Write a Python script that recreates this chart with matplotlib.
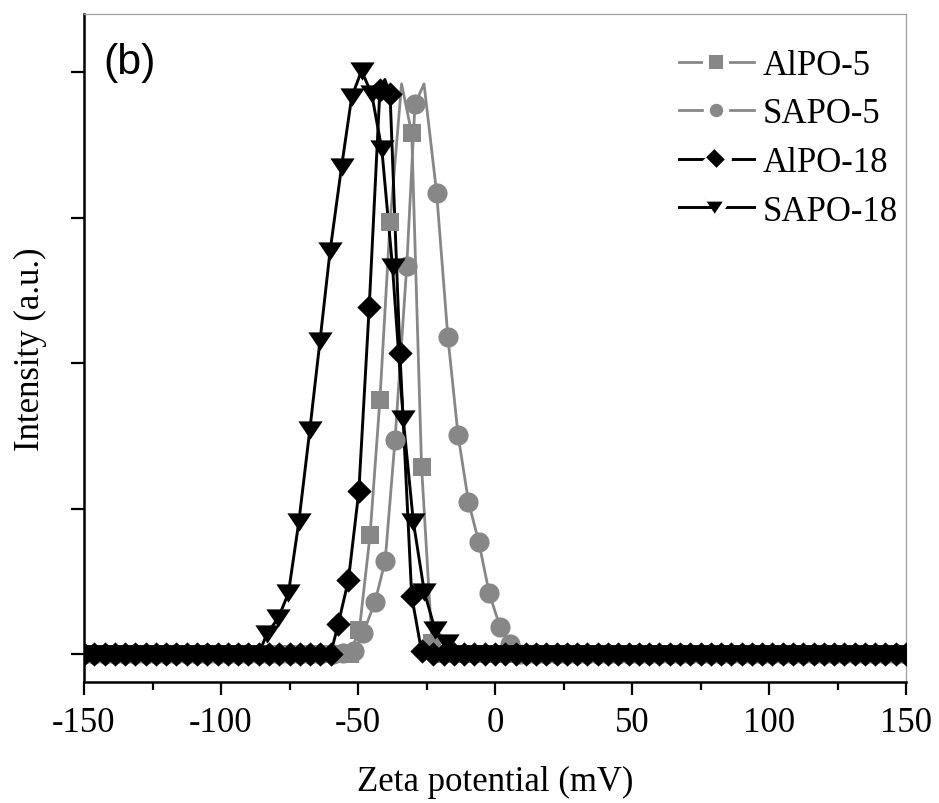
"""Zeta potential distributions of AlPO/SAPO samples, panel (b)."""

import matplotlib

matplotlib.use("Agg")

import matplotlib.pyplot as plt
import numpy as np
from matplotlib.lines import Line2D

# shared measurement grid for the flat baseline (mV)
BASE_X = [
    -150.0, -146.25, -142.5, -138.75, -135.0, -131.25, -127.5, -123.75, -120.0, -116.25,
    -112.5, -108.75, -105.0, -101.25, -97.5, -93.75, -90.0, -86.25, -82.5, -78.75,
    -75.0, -71.25, -67.5, -63.75, -60.0, -56.25, -52.5, -48.75, -45.0, -41.25,
    -37.5, -33.75, -30.0, -26.25, -22.5, -18.75, -15.0, -11.25, -7.5, -3.75,
    0.0, 3.75, 7.5, 11.25, 15.0, 18.75, 22.5, 26.25, 30.0, 33.75,
    37.5, 41.25, 45.0, 48.75, 52.5, 56.25, 60.0, 63.75, 67.5, 71.25,
    75.0, 78.75, 82.5, 86.25, 90.0, 93.75, 97.5, 101.25, 105.0, 108.75,
    112.5, 116.25, 120.0, 123.75, 127.5, 131.25, 135.0, 138.75, 142.5, 146.25, 150.0,
]

# peak regions (marker points)
ALPO5_X = [-53.0, -49.5, -45.6, -42.0, -38.3, -30.4, -26.8, -23.0, -19.3]
ALPO5_Y = [0.0, 0.17, 0.82, 1.75, 2.97, 3.58, 1.29, 0.08, 0.0]
ALPO5_APEX_X = [-34.1]
ALPO5_APEX_Y = [3.92]

SAPO5_X = [-59.0, -55.5, -51.5, -48.0, -43.8, -40.1, -36.5, -32.2, -29.2,
           -21.3, -17.2, -13.5, -9.7, -5.9, -2.1, 1.8, 5.5, 9.3]
SAPO5_Y = [0.0, 0.01, 0.02, 0.15, 0.36, 0.64, 1.47, 2.67, 3.78,
           3.17, 2.18, 1.51, 1.05, 0.77, 0.42, 0.19, 0.07, 0.0]
SAPO5_APEX_X = [-25.9]
SAPO5_APEX_Y = [3.92]

ALPO18_X = [-60.0, -57.2, -53.5, -49.7, -45.9, -42.0, -38.3, -34.7, -30.4, -26.8]
ALPO18_Y = [0.0, 0.21, 0.51, 1.12, 2.39, 3.88, 3.85, 2.07, 0.40, 0.02]
ALPO18_APEX_X = [-40.2]
ALPO18_APEX_Y = [3.95]

SAPO18_X = [-86.25, -83.3, -79.1, -75.4, -71.6, -67.6, -63.9, -60.2, -56.0, -52.3,
            -48.7, -45.0, -41.3, -37.4, -33.5, -29.8, -25.8, -21.9, -17.6, -13.9]
SAPO18_Y = [0.0, 0.14, 0.25, 0.42, 0.91, 1.54, 2.15, 2.77, 3.35, 3.83,
            4.01, 3.85, 3.47, 2.66, 1.62, 0.91, 0.43, 0.17, 0.08, 0.0]
SAPO18_APEX_X = []
SAPO18_APEX_Y = []

LABELS = ["AlPO-5", "SAPO-5", "AlPO-18", "SAPO-18"]
GREY = "#878787"

TRI = [(-1, 0.75), (1, 0.75), (0, -0.75)]
DIAMOND = [(0, 1), (1, 0), (0, -1), (-1, 0)]

plt.rcParams["font.family"] = ["Liberation Serif", "DejaVu Serif"]
plt.rcParams["axes.unicode_minus"] = False


def full_series(px, py):
    lo, hi = min(px) - 1.0, max(px) + 1.0
    xs = [x for x in BASE_X if x < lo or x > hi] + list(px)
    ys = [0.0 for x in BASE_X if x < lo or x > hi] + list(py)
    order = np.argsort(xs)
    return np.asarray(xs)[order], np.asarray(ys)[order]


def line_series(mx, my, ax_, ay_):
    xs = list(mx) + list(ax_)
    ys = list(my) + list(ay_)
    order = np.argsort(xs)
    return np.asarray(xs)[order], np.asarray(ys)[order]


fig = plt.figure(figsize=(9.39, 8.04), dpi=100)
ax = fig.add_axes([84 / 939, 1 - 683 / 804, 822 / 939, 668 / 804])

series = [
    (ALPO5_X, ALPO5_Y, ALPO5_APEX_X, ALPO5_APEX_Y, GREY, "s", 13.0, 2.0),
    (SAPO5_X, SAPO5_Y, SAPO5_APEX_X, SAPO5_APEX_Y, GREY, "o", 14.5, 2.0),
    (SAPO18_X, SAPO18_Y, SAPO18_APEX_X, SAPO18_APEX_Y, "black", TRI, 17.5, 2.1),
    (ALPO18_X, ALPO18_Y, ALPO18_APEX_X, ALPO18_APEX_Y, "black", DIAMOND, 17.5, 2.1),
]
for px, py, apx, apy, color, marker, ms, lw in series:
    mx, my = full_series(px, py)
    lx, ly = line_series(mx, my, apx, apy)
    ax.plot(lx, ly, color=color, linewidth=lw, zorder=2)
    ax.plot(mx, my, linestyle="none", marker=marker, markersize=ms,
            color=color, markeredgewidth=0, zorder=3)

ax.set_xlim(-150, 150)
ax.set_ylim(-0.19, 4.40)
ax.set_xticks([-150, -100, -50, 0, 50, 100, 150])
ax.set_xticks([-125, -75, -25, 25, 75, 125], minor=True)
ax.set_yticks([0, 1, 2, 3, 4])
ax.set_yticklabels([])
ax.tick_params(axis="both", which="major", direction="out", length=9.5, width=1.6,
               labelsize=25, pad=8)
ax.tick_params(axis="x", which="minor", direction="out", length=6, width=1.6)
ax.tick_params(top=False, right=False)

for side in ["left", "bottom"]:
    ax.spines[side].set_linewidth(1.8)
    ax.spines[side].set_color("black")
for side in ["top", "right"]:
    ax.spines[side].set_linewidth(0.9)
    ax.spines[side].set_color("#a0a0a0")

ax.set_xlabel("Zeta potential (mV)", fontsize=25)
ax.set_ylabel("Intensity (a.u.)", fontsize=25)
ax.xaxis.set_label_coords(0.5, -0.124)
ax.yaxis.set_label_coords(-0.045, 0.5)

ax.text(0.023, 0.958, "(b)", transform=ax.transAxes, fontsize=31,
        family=["Liberation Sans", "DejaVu Sans"], ha="left", va="top")

handles = [
    Line2D([], [], color=GREY, lw=2.0, marker="s", markersize=14,
           markerfacecolor=GREY, markeredgecolor="white", markeredgewidth=4.3),
    Line2D([], [], color=GREY, lw=2.0, marker="o", markersize=14,
           markerfacecolor=GREY, markeredgecolor="white", markeredgewidth=4.3),
    Line2D([], [], color="black", lw=2.1, marker=DIAMOND, markersize=18,
           markerfacecolor="black", markeredgecolor="white", markeredgewidth=4.3),
    Line2D([], [], color="black", lw=2.1, marker=TRI, markersize=17,
           markerfacecolor="black", markeredgecolor="white", markeredgewidth=4.3),
]
ax.legend(handles, LABELS, loc="upper left", bbox_to_anchor=(0.724, 0.948),
          frameon=False, fontsize=25, handlelength=2.15, handletextpad=0.25,
          labelspacing=0.45, borderpad=0, borderaxespad=0, numpoints=1)

fig.savefig("out.png", dpi=100)
plt.close(fig)
